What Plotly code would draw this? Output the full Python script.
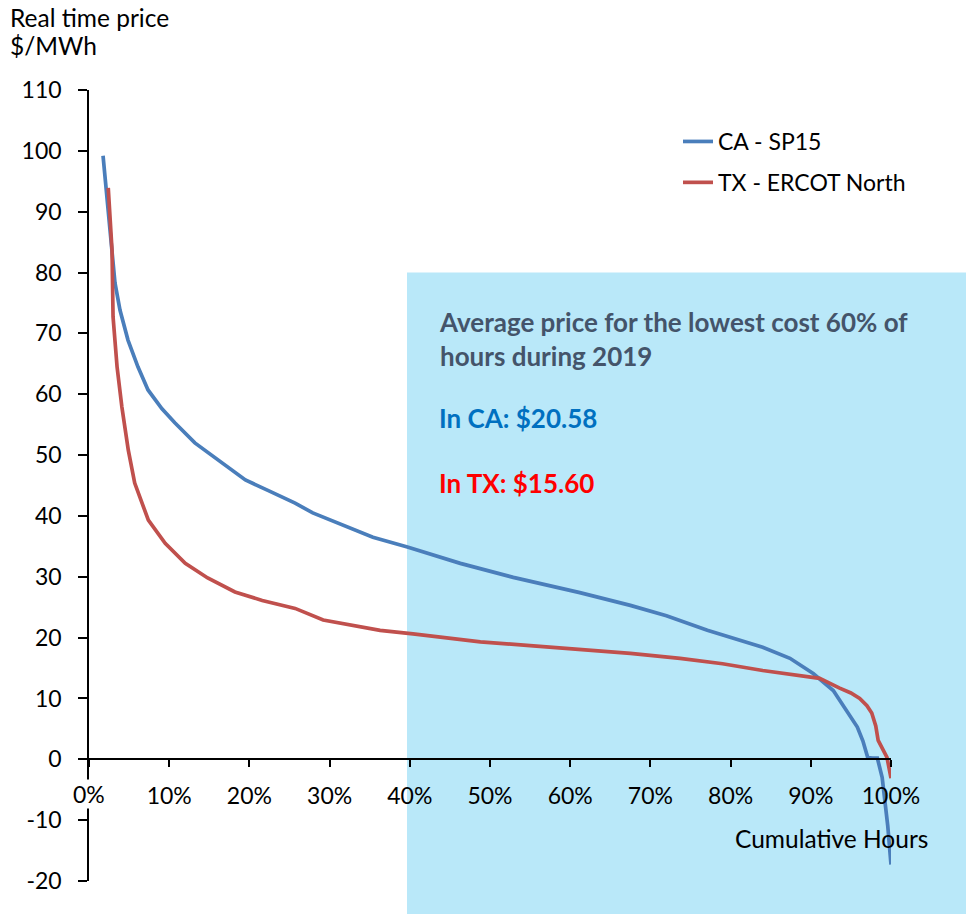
import plotly.graph_objects as go

# Cumulative share of hours (%) and real-time price ($/MWh), sorted high to low
ca_hours = [1.75, 2.4, 3.24, 3.87, 4.86, 6.1, 7.36, 9.1, 10.7, 13.2, 16.6, 19.5, 22.3,
            25.7, 27.9, 31.5, 35.4, 39.7, 46.3, 52.9, 57.0, 61.2, 67.5, 72.0, 77.1,
            80.5, 84.0, 87.4, 90.3, 92.8, 93.6, 94.8, 95.8, 96.5, 97.1, 97.7, 98.3,
            98.9, 99.3, 99.6, 100.0]
ca_price = [99.2, 90.5, 78.3, 73.8, 68.9, 64.5, 60.7, 57.6, 55.3, 52.0, 48.7, 45.9, 44.2,
            42.1, 40.5, 38.6, 36.5, 34.9, 32.2, 29.9, 28.7, 27.4, 25.3, 23.6, 21.2,
            19.8, 18.4, 16.6, 14.1, 11.3, 9.7, 7.5, 5.3, 3.0, 0.3, 0.2, 0.2,
            -3.0, -7.0, -11.0, -17.3]

tx_hours = [2.4, 2.87, 3.0, 3.5, 4.1, 4.9, 5.7, 7.4, 9.5, 12.0, 14.8, 18.2, 21.6,
            25.7, 29.2, 36.3, 40.4, 48.8, 55.0, 61.2, 67.5, 73.7, 79.0, 84.0, 89.5,
            91.1, 93.6, 95.0, 96.1, 97.0, 97.6, 98.1, 98.4, 99.0, 99.5, 100.0]
tx_price = [93.9, 83.7, 72.7, 64.5, 57.9, 50.8, 45.4, 39.3, 35.5, 32.2, 29.8, 27.5, 26.1,
            24.8, 22.9, 21.2, 20.6, 19.3, 18.7, 18.1, 17.4, 16.6, 15.7, 14.6, 13.5,
            13.3, 11.7, 10.9, 10.0, 8.8, 7.6, 5.5, 3.1, 1.5, 0.3, -3.1]

x_ticks = [0, 10, 20, 30, 40, 50, 60, 70, 80, 90, 100]
x_labels = ["", "10%", "20%", "30%", "40%", "50%", "60%", "70%", "80%", "90%", "100%"]
y_ticks = [-20, -10, 0, 10, 20, 30, 40, 50, 60, 70, 80, 90, 100, 110]
y_labels = ["-20", "-10", "0", "10", "20", "30", "40", "50", "60", "70", "80", "90", "100", "110"]

FONT = "Lato, 'Open Sans', sans-serif"
BLUE = "#4A7EBB"
RED = "#C0504D"
Y_MIN, Y_MAX = -20, 110
Y_SPAN = Y_MAX - Y_MIN

# plot area geometry (pixels)
W, H = 966, 914
L, R, T, B = 89, 75, 90, 33
PW, PH = W - L - R, H - T - B


def px_x(px):
    return (px - L) / PW


def px_y(py):
    return (H - B - py) / PH


fig = go.Figure()
fig.add_trace(go.Scatter(x=ca_hours, y=ca_price, mode="lines", name="CA - SP15",
                         legendgroup="ca", line=dict(color=BLUE, width=3.7)))
fig.add_trace(go.Scatter(x=tx_hours, y=tx_price, mode="lines", name="TX - ERCOT North",
                         legendgroup="tx", line=dict(color=RED, width=3.7)))

# Highlight box for the lowest-cost 60% of hours
fig.add_shape(type="rect", xref="paper", yref="paper",
              x0=px_x(407), x1=px_x(W + 2),
              y0=px_y(H + 2), y1=(80 - Y_MIN) / Y_SPAN,
              fillcolor="#B9E8F9", line=dict(width=0), layer="below")

fig.update_layout(
    width=W, height=H,
    margin=dict(l=L, r=R, t=T, b=B),
    paper_bgcolor="white", plot_bgcolor="rgba(0,0,0,0)",
    font=dict(family=FONT, size=23, color="black"),
    showlegend=True,
    legend=dict(x=px_x(678), y=px_y(120), xanchor="left", yanchor="top",
                bgcolor="rgba(0,0,0,0)", font=dict(size=23),
                tracegroupgap=8),
    xaxis=dict(range=[0, 100], tickvals=x_ticks, ticktext=x_labels,
               showline=True, linecolor="black", linewidth=1.5,
               ticks="outside", ticklen=7, tickwidth=1.5, tickcolor="black",
               showgrid=False, zeroline=False, ticklabelstandoff=9,
               anchor="free", position=(0 - Y_MIN) / Y_SPAN),
    yaxis=dict(range=[Y_MIN, Y_MAX], tickvals=y_ticks, ticktext=y_labels,
               showline=True, linecolor="black", linewidth=1.5,
               ticks="outside", ticklen=9, tickwidth=1.5, tickcolor="black",
               showgrid=False, zeroline=False, ticklabelstandoff=12),
)

# "0%" label with a white backing, breaking the vertical axis line behind it
fig.add_annotation(x=0, y=px_y(794), xref="x", yref="paper", text="0%",
                   showarrow=False, xanchor="center", yanchor="middle",
                   bgcolor="white", borderpad=0, font=dict(size=23))

# Axis titles
fig.add_annotation(x=px_x(8), y=px_y(17), xref="paper", yref="paper",
                   text="Real time price", showarrow=False,
                   xanchor="left", yanchor="middle", font=dict(size=24.5))
fig.add_annotation(x=px_x(8), y=px_y(45), xref="paper", yref="paper",
                   text="$/MWh", showarrow=False,
                   xanchor="left", yanchor="middle", font=dict(size=24.5))
fig.add_annotation(x=px_x(930), y=px_y(838), xref="paper", yref="paper",
                   text="Cumulative Hours", showarrow=False,
                   xanchor="right", yanchor="middle", font=dict(size=24.5))

# Callout text inside the highlight box
fig.add_annotation(x=px_x(437), y=px_y(339), xref="paper", yref="paper",
                   text="<b>Average price for the lowest cost 60% of<br>hours during 2019</b>",
                   showarrow=False, xanchor="left", yanchor="middle", align="left",
                   font=dict(size=26, color="#44546A"))
fig.add_annotation(x=px_x(437), y=px_y(418), xref="paper", yref="paper",
                   text="<b>In CA: $20.58</b>", showarrow=False,
                   xanchor="left", yanchor="middle",
                   font=dict(size=26, color="#0070C0"))
fig.add_annotation(x=px_x(437), y=px_y(483), xref="paper", yref="paper",
                   text="<b>In TX: $15.60</b>", showarrow=False,
                   xanchor="left", yanchor="middle",
                   font=dict(size=26, color="#FF0000"))

fig.write_html("out.html")
